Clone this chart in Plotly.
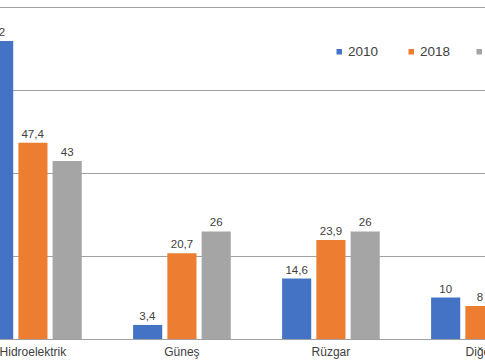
import plotly.graph_objects as go

categories = ["Hidroelektrik", "Güneş", "Rüzgar", "Diğer"]
series_names = ["2010", "2018", "2030"]
values_2010 = [72, 3.4, 14.6, 10]
values_2018 = [47.4, 20.7, 23.9, 8]
values_2030 = [43, 26, 26, 5]
colors = ["#4472C4", "#ED7D31", "#A5A5A5"]
y_ticks = [0, 20, 40, 60, 80]

FONT = "Liberation Sans, Arial, sans-serif"

def fmt(v):
    return ("%g" % v).replace(".", ",")

fig = go.Figure()
for name, vals, col in zip(series_names, [values_2010, values_2018, values_2030], colors):
    fig.add_trace(go.Bar(
        x=categories, y=vals, name=name, marker_color=col, marker_line_width=0,
        text=[fmt(v) for v in vals], textposition="outside",
        textfont=dict(size=11.5, color="#404040", family=FONT),
        cliponaxis=True, showlegend=False,
    ))

# legend drawn as small squares + labels (layout elements)
legend_x = [336.5, 408.5, 476.5]  # px positions of squares
W, H = 485, 339
for name, col, lx in zip(series_names, colors, legend_x):
    fig.add_shape(type="rect", xref="paper", yref="paper",
                  x0=lx / W, x1=(lx + 5.5) / W,
                  y0=1 - 54.5 / H, y1=1 - 49 / H,
                  fillcolor=col, line_width=0, layer="above")
    fig.add_annotation(xref="paper", yref="paper", x=(lx + 9.5) / W, y=1 - 52 / H,
                       xanchor="left", yanchor="middle", showarrow=False,
                       text=name, font=dict(size=13.5, color="#404040", family=FONT))

fig.update_layout(
    width=485, height=360,
    margin=dict(l=0, r=0, t=0, b=21, autoexpand=False),
    paper_bgcolor="white", plot_bgcolor="white",
    barmode="group", bargap=0.31, bargroupgap=0.15,
    font=dict(family=FONT, color="#404040"),
    showlegend=False,
)
fig.update_xaxes(range=[-0.221, 3.034], automargin=False, showgrid=False,
                 showline=True, linecolor="#A0A0A0", linewidth=1, ticks="",
                 ticklabelstandoff=2,
                 tickfont=dict(size=12, color="#404040", family=FONT))
fig.update_yaxes(range=[0, 81.93], automargin=False, tickvals=y_ticks,
                 showticklabels=False, showgrid=True, gridcolor="#A0A0A0",
                 gridwidth=1, zeroline=False)

fig.write_html("out.html", config={"displayModeBar": False},
               post_script="document.body.style.margin='0px';document.body.style.overflow='hidden';")
